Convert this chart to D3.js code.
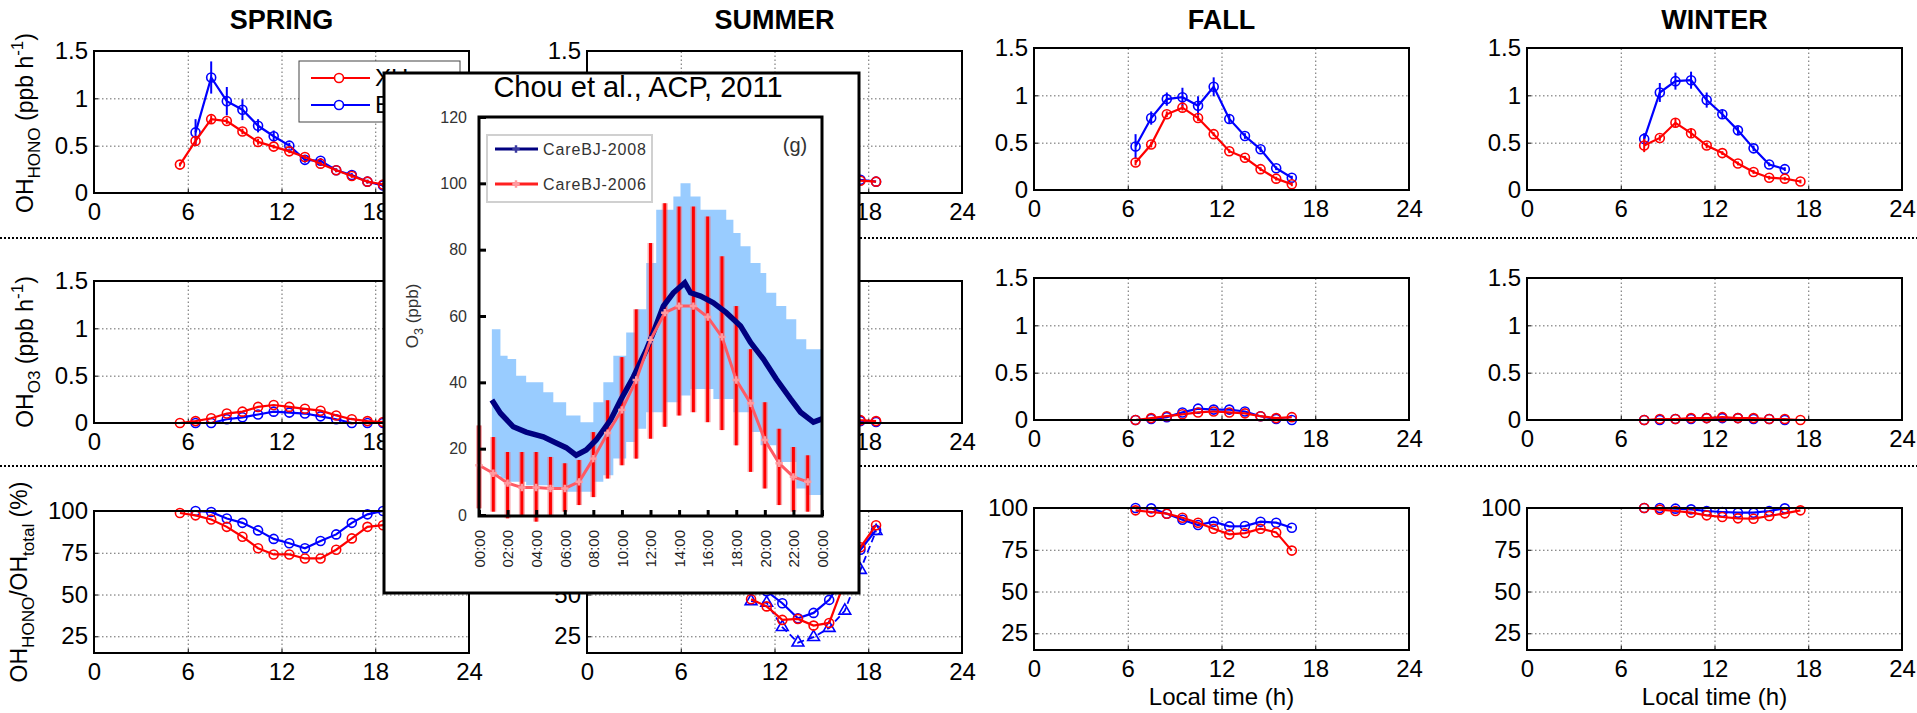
<!DOCTYPE html>
<html>
<head>
<meta charset="utf-8">
<script src="https://cdn.jsdelivr.net/npm/d3@7"></script>
<style>
  body { margin: 0; background: #fff; }
  svg { display: block; }
</style>
</head>
<body>
<div id="chart"></div>
<script>
// ---- data ----
const seasons = ["SPRING", "SUMMER", "FALL", "WINTER"];
const hourTicks = [0, 6, 12, 18, 24];
const rateTicks = [0, 0.5, 1, 1.5];
const pctTicks = [25, 50, 75, 100];
const siteNames = ["XH", "BJ"];

const springHours = [5.5, 6.5, 7.5, 8.5, 9.5, 10.5, 11.5, 12.5, 13.5, 14.5, 15.5, 16.5, 17.5, 18.5];
const springHonoRed = [0.30, 0.55, 0.78, 0.76, 0.65, 0.54, 0.49, 0.44, 0.38, 0.31, 0.24, 0.18, 0.12, 0.09];
const springHonoRedErr = [0.02, 0.04, 0.04, 0.03, 0.03, 0.03, 0.02, 0.02, 0.02, 0.02, 0.02, 0.02, 0.02, 0.02];
const springHonoBlue = [null, 0.64, 1.22, 0.97, 0.88, 0.71, 0.60, 0.50, 0.35, 0.34, 0.24, 0.19, 0.12, 0.08];
const springHonoBlueErr = [null, 0.14, 0.17, 0.15, 0.11, 0.07, 0.06, 0.03, 0.03, 0.03, 0.02, 0.02, 0.02, 0.02];
const springO3Red = [0.00, 0.02, 0.05, 0.10, 0.12, 0.17, 0.19, 0.17, 0.15, 0.13, 0.08, 0.04, 0.02, 0.01];
const springO3Blue = [null, 0.00, 0.00, 0.04, 0.06, 0.09, 0.12, 0.11, 0.10, 0.07, 0.04, 0.00, 0.00, 0.00];
const springPctRed = [98.8, 97.4, 94.9, 90.5, 84.6, 77.7, 74.0, 74.0, 71.6, 71.6, 76.8, 83.6, 90.5, 91.5];
const springPctBlue = [null, 100, 99.4, 95.5, 92.9, 88.4, 83.3, 80.7, 77.7, 82.0, 86.0, 92.9, 98.0, 100];

const summerHours = [10.5, 11.5, 12.5, 13.5, 14.5, 15.5, 16.5, 17.5, 18.5];
const summerHonoRed = [0.62, 0.52, 0.43, 0.35, 0.28, 0.22, 0.17, 0.13, 0.12];
const summerHonoBlue = [0.66, 0.55, 0.45, 0.37, 0.30, 0.23, 0.18, 0.14, 0.12];
const summerO3Red = [0.20, 0.22, 0.21, 0.18, 0.14, 0.10, 0.06, 0.03, 0.02];
const summerO3Blue = [0.15, 0.17, 0.16, 0.14, 0.11, 0.08, 0.05, 0.02, 0.01];
const summerPctRed = [47.2, 42.9, 34.8, 35.4, 31.4, 33.0, 58.0, 78.3, 91.5];
const summerPctBlue = [53.0, 52.0, 44.8, 35.8, 39.0, 46.8, 62.0, 76.8, 88.6];
const summerPctTri = [46.0, 45.0, 30.5, 21.2, 24.5, 30.0, 40.3, 64.7, 88.0];

const fallHours = [6.5, 7.5, 8.5, 9.5, 10.5, 11.5, 12.5, 13.5, 14.5, 15.5, 16.5];
const fallHonoRed = [0.29, 0.48, 0.80, 0.87, 0.76, 0.59, 0.41, 0.34, 0.22, 0.12, 0.06];
const fallHonoRedErr = [0.03, 0.03, 0.03, 0.03, 0.03, 0.02, 0.02, 0.02, 0.02, 0.02, 0.02];
const fallHonoBlue = [0.46, 0.76, 0.96, 0.98, 0.89, 1.09, 0.75, 0.57, 0.43, 0.23, 0.13];
const fallHonoBlueErr = [0.13, 0.07, 0.07, 0.10, 0.10, 0.10, 0.05, 0.03, 0.03, 0.02, 0.02];
const fallO3Red = [0.00, 0.02, 0.04, 0.06, 0.08, 0.09, 0.08, 0.07, 0.04, 0.02, 0.03];
const fallO3Blue = [0.00, 0.01, 0.03, 0.08, 0.12, 0.11, 0.11, 0.09, 0.04, 0.01, 0.00];
const fallPctRed = [98.6, 97.6, 96.6, 94.2, 91.2, 87.6, 84.2, 85.0, 87.6, 85.4, 74.5];
const fallPctBlue = [100, 99.8, 96.6, 93.0, 89.8, 91.8, 89.0, 89.2, 91.8, 91.2, 88.2];

const winterHours = [7.5, 8.5, 9.5, 10.5, 11.5, 12.5, 13.5, 14.5, 15.5, 16.5, 17.5];
const winterHonoRed = [0.47, 0.55, 0.71, 0.60, 0.47, 0.39, 0.28, 0.19, 0.13, 0.12, 0.09];
const winterHonoRedErr = [0.07, 0.03, 0.05, 0.05, 0.03, 0.02, 0.02, 0.02, 0.02, 0.02, 0.02];
const winterHonoBlue = [0.54, 1.03, 1.15, 1.16, 0.95, 0.80, 0.63, 0.44, 0.27, 0.22, null];
const winterHonoBlueErr = [0.06, 0.10, 0.09, 0.09, 0.08, 0.05, 0.04, 0.03, 0.02, 0.02, null];
const winterO3Red = [0.00, 0.01, 0.01, 0.02, 0.02, 0.03, 0.02, 0.02, 0.01, 0.01, 0.00];
const winterO3Blue = [0.00, 0.00, 0.01, 0.01, 0.02, 0.02, 0.02, 0.01, 0.01, 0.00, null];
const winterPctRed = [100, 99.0, 98.2, 97.2, 95.6, 94.6, 93.8, 93.6, 95.2, 96.8, 98.6];
const winterPctBlue = [100, 100, 99.6, 99.2, 98.2, 97.6, 97.2, 97.2, 98.2, 99.8, null];

// inset (Chou et al.) : O3 diurnal cycle
const insetTitle = "Chou et al., ACP, 2011";
const insetSeries = ["CareBJ-2008", "CareBJ-2006"];
const insetHourTicks = [0, 2, 4, 6, 8, 10, 12, 14, 16, 18, 20, 22, 24];
const insetTickLabels = ["00:00", "02:00", "04:00", "06:00", "08:00", "10:00", "12:00",
  "14:00", "16:00", "18:00", "20:00", "22:00", "00:00"];
const insetYTicks = [0, 20, 40, 60, 80, 100, 120];

const bandHours = [0.9, 1.5, 2.0, 2.6, 3.3, 4.5, 5.2, 6.1, 7.1, 8.0, 8.7, 9.4, 10.3, 11.0, 11.7,
  12.4, 13.1, 13.6, 14.1, 14.8, 15.5, 16.4, 17.3, 17.8, 18.3, 19.0, 19.7, 20.1, 20.8, 21.5, 22.2, 22.9, 24.0];
const bandHigh2008 = [56, 48, 47, 42, 40, 37, 34, 30, 28, 34, 40, 48, 55, 62, 76,
  92, 92, 96, 100, 96, 92, 92, 89, 85, 81, 76, 73, 67, 63, 59, 53, 50, 48];
const bandLow2008 = [12, 11, 10, 10, 9, 9, 8, 7, 7, 10, 12, 17, 22, 26, 31,
  31, 34, 34, 36, 38, 38, 35, 35, 31, 31, 25, 21, 21, 16, 16, 8, 6, 6];

const o3Hours2008 = [0.9, 1.5, 2.4, 3.3, 4.5, 5.4, 6.1, 6.8, 7.5, 8.2, 9.2, 9.9, 10.8, 11.7, 12.2,
  12.9, 13.6, 14.4, 14.8, 15.5, 16.4, 17.3, 18.3, 19.0, 19.9, 20.8, 21.8, 22.5, 23.4, 24.0];
const o3Mean2008 = [34.7, 30.7, 26.6, 25.0, 23.6, 21.7, 20.3, 18.0, 19.6, 22.6, 28.6, 34.6, 41.6, 49.7, 55.0,
  63.0, 67.0, 70.0, 67.0, 66.0, 64.0, 61.0, 57.0, 52.0, 47.0, 41.0, 35.0, 31.0, 28.0, 29.0];

const o3Hours2006 = [0, 1, 2, 3, 4, 5, 6, 7, 8, 9, 10, 11, 12, 13, 14, 15, 16, 17, 18, 19, 20, 21, 22, 23];
const o3Mean2006 = [15.0, 12.6, 9.6, 8.3, 8.3, 8.0, 8.0, 10.0, 17.0, 24.7, 31.7, 40.7, 52.8, 61.0, 63.0, 63.0,
  59.7, 53.7, 40.7, 33.7, 22.6, 15.6, 11.5, 10.0];
const o3High2006 = [27, 23.5, 19, 19, 19, 17.5, 15.6, 16.6, 25, 34.6, 47.6, 62, 82, 94, 93, 93,
  90, 78, 63, 50, 34, 26, 20.5, 18];
const o3Low2006 = [2, 1, -1, 0, -2, 0, 1, 3, 5.4, 11, 15, 17, 23, 26.6, 30, 31,
  28, 25.6, 21, 13, 8, 3, 1, 1];

function main() {
  const W = 1917, H = 713;
  const FONT = "Arial, 'Liberation Sans', sans-serif";
  const RED = "#ff0000", BLUE = "#0000ff";

  // panel layout
  const colLeft = [94, 587, 1034, 1527];
  const colShift = [0, 0, -3, -3];
  const rowTop = [51, 281, 511];
  const panelW = 375, panelH = 142;

  const svg = d3.select("#chart").append("svg")
    .attr("width", W).attr("height", H)
    .style("font-family", FONT);

  // series per season / row
  const seasonData = [
    { hours: springHours, rows: [
      [{ v: springHonoBlue, e: springHonoBlueErr, c: BLUE }, { v: springHonoRed, e: springHonoRedErr, c: RED }],
      [{ v: springO3Blue, c: BLUE }, { v: springO3Red, c: RED }],
      [{ v: springPctBlue, c: BLUE }, { v: springPctRed, c: RED }]] },
    { hours: summerHours, rows: [
      [{ v: summerHonoBlue, c: BLUE }, { v: summerHonoRed, c: RED }],
      [{ v: summerO3Blue, c: BLUE }, { v: summerO3Red, c: RED }],
      [{ v: summerPctTri, c: BLUE, tri: true }, { v: summerPctBlue, c: BLUE }, { v: summerPctRed, c: RED }]] },
    { hours: fallHours, rows: [
      [{ v: fallHonoBlue, e: fallHonoBlueErr, c: BLUE }, { v: fallHonoRed, e: fallHonoRedErr, c: RED }],
      [{ v: fallO3Blue, c: BLUE }, { v: fallO3Red, c: RED }],
      [{ v: fallPctBlue, c: BLUE }, { v: fallPctRed, c: RED }]] },
    { hours: winterHours, rows: [
      [{ v: winterHonoBlue, e: winterHonoBlueErr, c: BLUE }, { v: winterHonoRed, e: winterHonoRedErr, c: RED }],
      [{ v: winterO3Blue, c: BLUE }, { v: winterO3Red, c: RED }],
      [{ v: winterPctBlue, c: BLUE }, { v: winterPctRed, c: RED }]] }
  ];

  // subscript / superscript helper
  function richText(sel, parts, size) {
    let shift = 0;
    parts.forEach(p => {
      const want = p[1] === "sub" ? size * 0.3 : p[1] === "sup" ? -size * 0.42 : 0;
      sel.append("tspan")
        .attr("dy", want - shift)
        .attr("font-size", p[1] ? size * 0.74 : size)
        .text(p[0]);
      shift = want;
    });
  }

  // dotted separators between rows
  [238, 466].forEach(yy => {
    svg.append("line").attr("x1", 0).attr("x2", W).attr("y1", yy).attr("y2", yy)
      .attr("stroke", "#000").attr("stroke-width", 2).attr("stroke-dasharray", "2,2");
  });

  seasonData.forEach((sd, s) => {
    const left = colLeft[s];
    const x = d3.scaleLinear().domain([0, 24]).range([left, left + panelW]);

    svg.append("text")
      .attr("x", left + panelW / 2).attr("y", 29)
      .attr("text-anchor", "middle").attr("font-size", 27).attr("font-weight", "bold")
      .text(seasons[s]);

    sd.rows.forEach((series, r) => {
      const top = rowTop[r] + colShift[s];
      const bottom = top + panelH;
      const y = r < 2
        ? d3.scaleLinear().domain([0, 1.5]).range([bottom, top])
        : d3.scaleLinear().domain([15, 100]).range([bottom, top]);
      const yTicks = r < 2 ? rateTicks : pctTicks;
      const g = svg.append("g");

      g.append("rect").attr("x", left).attr("y", top).attr("width", panelW).attr("height", panelH)
        .attr("fill", "#fff");

      // dotted grid
      g.append("g").attr("transform", `translate(0,${bottom})`)
        .call(d3.axisBottom(x).tickValues(hourTicks.slice(1, -1)).tickSize(-panelH).tickFormat(""))
        .call(a => a.select(".domain").remove())
        .call(a => a.selectAll("line").attr("stroke", "#666").attr("stroke-dasharray", "1.5,2.5"));
      g.append("g").attr("transform", `translate(${left},0)`)
        .call(d3.axisLeft(y).tickValues(yTicks.filter(t => t > y.domain()[0] && t < y.domain()[1]))
          .tickSize(-panelW).tickFormat(""))
        .call(a => a.select(".domain").remove())
        .call(a => a.selectAll("line").attr("stroke", "#666").attr("stroke-dasharray", "1.5,2.5"));

      // tick labels
      g.append("g").attr("transform", `translate(0,${bottom})`)
        .call(d3.axisBottom(x).tickValues(hourTicks).tickSize(-4).tickPadding(10).tickFormat(d => d))
        .attr("font-family", FONT).attr("font-size", 24)
        .call(a => a.select(".domain").remove())
        .call(a => a.selectAll("line").attr("stroke", "#000"))
        .call(a => a.selectAll("text").attr("fill", "#000"));
      g.append("g").attr("transform", `translate(${left},0)`)
        .call(d3.axisLeft(y).tickValues(yTicks).tickSize(-4).tickPadding(6).tickFormat(d => d))
        .attr("font-family", FONT).attr("font-size", 24)
        .call(a => a.select(".domain").remove())
        .call(a => a.selectAll("line").attr("stroke", "#000"))
        .call(a => a.selectAll("text").attr("fill", "#000"));

      // series
      series.forEach(sr => {
        const pts = sd.hours.map((h, i) => ({ h: h, v: sr.v[i], e: sr.e ? sr.e[i] : null }))
          .filter(d => d.v != null);
        const line = d3.line().x(d => x(d.h)).y(d => y(d.v));
        g.append("path").datum(pts).attr("d", line)
          .attr("fill", "none").attr("stroke", sr.c).attr("stroke-width", sr.tri ? 1.8 : 2.2)
          .attr("stroke-dasharray", sr.tri ? "7,4" : null);
        if (sr.e) {
          g.selectAll(null).data(pts.filter(d => d.e != null)).enter().append("line")
            .attr("x1", d => x(d.h)).attr("x2", d => x(d.h))
            .attr("y1", d => y(d.v - d.e)).attr("y2", d => y(d.v + d.e))
            .attr("stroke", sr.c).attr("stroke-width", 2);
        }
        if (sr.tri) {
          g.selectAll(null).data(pts).enter().append("path")
            .attr("d", d3.symbol(d3.symbolTriangle, 60))
            .attr("transform", d => `translate(${x(d.h)},${y(d.v)})`)
            .attr("fill", "none").attr("stroke", sr.c).attr("stroke-width", 1.6);
        } else {
          g.selectAll(null).data(pts).enter().append("circle")
            .attr("cx", d => x(d.h)).attr("cy", d => y(d.v)).attr("r", 4.5)
            .attr("fill", "none").attr("stroke", sr.c).attr("stroke-width", 1.6);
        }
      });

      g.append("rect").attr("x", left).attr("y", top).attr("width", panelW).attr("height", panelH)
        .attr("fill", "none").attr("stroke", "#000").attr("stroke-width", 2);

      if (r === 2 && s >= 2) {
        svg.append("text").attr("x", left + panelW / 2).attr("y", bottom + 55)
          .attr("text-anchor", "middle").attr("font-size", 24).text("Local time (h)");
      }
    });
  });

  // y axis titles (left column)
  const yLabels = [
    { x: 33, y: 123, parts: [["OH"], ["HONO", "sub"], [" (ppb h"], ["-1", "sup"], [")"]] },
    { x: 33, y: 352, parts: [["OH"], ["O3", "sub"], [" (ppb h"], ["-1", "sup"], [")"]] },
    { x: 27, y: 582, parts: [["OH"], ["HONO", "sub"], ["/OH"], ["total", "sub"], [" (%)"]] }
  ];
  yLabels.forEach(l => {
    const t = svg.append("text").attr("transform", `translate(${l.x},${l.y}) rotate(-90)`)
      .attr("text-anchor", "middle").attr("font-size", 23);
    richText(t, l.parts, 23);
  });

  // spring legend (partly hidden by the inset)
  const lg = svg.append("g");
  lg.append("rect").attr("x", 299).attr("y", 61).attr("width", 161).attr("height", 61)
    .attr("fill", "#fff").attr("stroke", "#444").attr("stroke-width", 1);
  [RED, BLUE].forEach((c, i) => {
    const yy = 78 + i * 27;
    lg.append("line").attr("x1", 311).attr("x2", 370).attr("y1", yy).attr("y2", yy)
      .attr("stroke", c).attr("stroke-width", 2);
    lg.append("circle").attr("cx", 339).attr("cy", yy).attr("r", 4.5)
      .attr("fill", "#fff").attr("stroke", c).attr("stroke-width", 1.6);
    lg.append("text").attr("x", 375).attr("y", yy).attr("dy", "0.35em")
      .attr("font-size", 24).text(siteNames[i]);
  });

  // ---- inset figure ----
  const ix = d3.scaleLinear().domain([0, 24]).range([479, 822]);
  const iy = d3.scaleLinear().domain([0, 120]).range([515, 117]);
  const inset = svg.append("g");
  inset.append("rect").attr("x", 384).attr("y", 73).attr("width", 475).attr("height", 520)
    .attr("fill", "#fff").attr("stroke", "#000").attr("stroke-width", 3);
  inset.append("text").attr("x", 638).attr("y", 97).attr("text-anchor", "middle")
    .attr("font-size", 29).text(insetTitle);

  const bandPts = bandHours.map((h, i) => ({ h: h, lo: bandLow2008[i], hi: bandHigh2008[i] }));
  inset.append("path").datum(bandPts)
    .attr("d", d3.area().curve(d3.curveStepAfter).x(d => ix(d.h)).y0(d => iy(d.lo)).y1(d => iy(d.hi)))
    .attr("fill", "#99ccff");

  const pts2006 = o3Hours2006.map((h, i) => ({ h: h, v: o3Mean2006[i], lo: o3Low2006[i], hi: o3High2006[i] }));
  inset.selectAll(null).data(pts2006).enter().append("line")
    .attr("x1", d => ix(d.h)).attr("x2", d => ix(d.h))
    .attr("y1", d => iy(d.lo)).attr("y2", d => iy(d.hi))
    .attr("stroke", "rgba(240,110,120,0.55)").attr("stroke-width", 6);
  inset.selectAll(null).data(pts2006).enter().append("line")
    .attr("x1", d => ix(d.h)).attr("x2", d => ix(d.h))
    .attr("y1", d => iy(d.lo)).attr("y2", d => iy(d.hi))
    .attr("stroke", "#ff0000").attr("stroke-width", 3);

  const pts2008 = o3Hours2008.map((h, i) => ({ h: h, v: o3Mean2008[i] }));
  inset.append("path").datum(pts2008)
    .attr("d", d3.line().x(d => ix(d.h)).y(d => iy(d.v)))
    .attr("fill", "none").attr("stroke", "#000080").attr("stroke-width", 5.5);

  inset.append("path").datum(pts2006)
    .attr("d", d3.line().x(d => ix(d.h)).y(d => iy(d.v)))
    .attr("fill", "none").attr("stroke", "#ff5a64").attr("stroke-width", 3);
  inset.selectAll(null).data(pts2006).enter().append("path")
    .attr("d", d3.symbol(d3.symbolCross, 30))
    .attr("transform", d => `translate(${ix(d.h)},${iy(d.v)})`)
    .attr("fill", "#ff9aa0");

  // inset axes
  inset.append("g").attr("transform", "translate(0,516)")
    .call(d3.axisBottom(ix).tickValues(insetHourTicks).tickSize(-6).tickFormat((d, i) => insetTickLabels[i]))
    .attr("font-family", FONT).attr("font-size", 15)
    .call(a => a.select(".domain").remove())
    .call(a => a.selectAll("line").attr("stroke", "#000").attr("stroke-width", 3))
    .call(a => a.selectAll("text")
      .attr("transform", "rotate(-90)").attr("x", -14).attr("y", 0).attr("dy", "0.35em")
      .attr("text-anchor", "end").attr("fill", "#222"));
  inset.append("g").attr("transform", "translate(479,0)")
    .call(d3.axisLeft(iy).tickValues(insetYTicks).tickSize(-7).tickPadding(12))
    .attr("font-family", FONT).attr("font-size", 16)
    .call(a => a.select(".domain").remove())
    .call(a => a.selectAll("line").attr("stroke", "#000").attr("stroke-width", 3))
    .call(a => a.selectAll("text").attr("fill", "#333"));
  inset.append("rect").attr("x", 479).attr("y", 117).attr("width", 343).attr("height", 399)
    .attr("fill", "none").attr("stroke", "#000").attr("stroke-width", 3);

  const yl = inset.append("text").attr("transform", "translate(418,316) rotate(-90)")
    .attr("text-anchor", "middle").attr("font-size", 17).attr("fill", "#333");
  richText(yl, [["O"], ["3", "sub"], [" (ppb)"]], 17);

  inset.append("text").attr("x", 795).attr("y", 145).attr("dy", "0.35em")
    .attr("text-anchor", "middle").attr("font-size", 20).attr("fill", "#333").text("(g)");

  // inset legend
  const il = inset.append("g");
  il.append("rect").attr("x", 487).attr("y", 135).attr("width", 165).attr("height", 67)
    .attr("fill", "#fff").attr("stroke", "#d0d0d0").attr("stroke-width", 2);
  [["#000080", "#3a3aa0"], ["#ff2020", "#ff9aa0"]].forEach((c, i) => {
    const yy = 149 + i * 35;
    il.append("line").attr("x1", 495).attr("x2", 538).attr("y1", yy).attr("y2", yy)
      .attr("stroke", c[0]).attr("stroke-width", 3);
    il.append("path").attr("d", d3.symbol(d3.symbolCross, 30))
      .attr("transform", `translate(516,${yy})`).attr("fill", c[1]);
    il.append("text").attr("x", 543).attr("y", yy).attr("dy", "0.35em")
      .attr("font-size", 16).attr("fill", "#333").attr("textLength", 103)
      .text(insetSeries[i]);
  });
}

function whenDocumentLoaded(action) {
  if (document.readyState === "loading") {
    document.addEventListener("DOMContentLoaded", action);
  } else {
    action();
  }
}

whenDocumentLoaded(() => {
  main();
});
</script>
</body>
</html>
